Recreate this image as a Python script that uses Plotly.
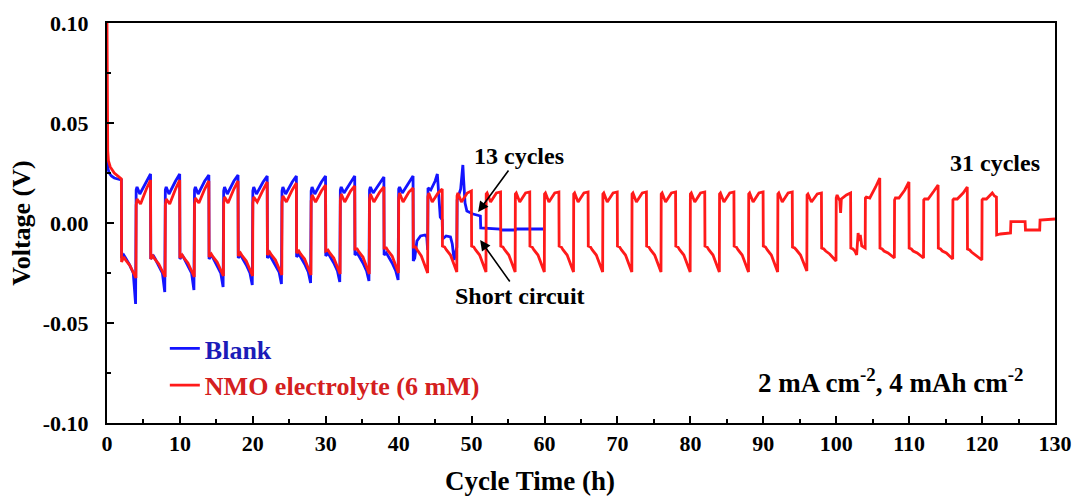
import plotly.graph_objects as go

# ---------------- data, (time h, voltage V) ----------------
# Blank electrolyte (blue)
blank_points = [
    (0, 0.035), (0.05, 0.030), (0.15, 0.027), (0.3, 0.025), (0.6, 0.0235), (1.0, 0.0225), (1.5, 0.022), (1.97, 0.0215),
    (2.0, -0.0175), (2.3, -0.016), (2.55, -0.0175), (3.1, -0.021), (3.6, -0.025), (3.92, -0.0405),
    (4.0, 0.0165), (4.12, 0.018), (4.5, 0.0145), (5.4, 0.021), (5.97, 0.0245),
    (6.0, -0.018), (6.3, -0.016), (6.55, -0.0175), (7.1, -0.0215), (7.6, -0.025), (7.92, -0.0345),
    (8.0, 0.0165), (8.12, 0.018), (8.5, 0.0145), (9.4, 0.021), (9.97, 0.0245),
    (10.0, -0.018), (10.3, -0.016), (10.55, -0.0175), (11.1, -0.0215), (11.6, -0.025), (11.92, -0.0335),
    (12.0, 0.0165), (12.12, 0.018), (12.5, 0.0145), (13.4, 0.021), (13.97, 0.024),
    (14.0, -0.018), (14.3, -0.016), (14.55, -0.0175), (15.1, -0.0215), (15.6, -0.025), (15.92, -0.032),
    (16.0, 0.016), (16.12, 0.018), (16.5, 0.0145), (17.4, 0.021), (17.97, 0.024),
    (18.0, -0.0175), (18.3, -0.016), (18.55, -0.0175), (19.1, -0.021), (19.6, -0.025), (19.92, -0.031),
    (20.0, 0.016), (20.12, 0.018), (20.5, 0.0145), (21.4, 0.0205), (21.97, 0.0235),
    (22.0, -0.0175), (22.3, -0.016), (22.55, -0.0175), (23.1, -0.021), (23.6, -0.0245), (23.92, -0.0305),
    (24.0, 0.016), (24.12, 0.018), (24.5, 0.0145), (25.4, 0.0205), (25.97, 0.0235),
    (26.0, -0.017), (26.3, -0.0155), (26.55, -0.017), (27.1, -0.0205), (27.6, -0.0245), (27.92, -0.030),
    (28.0, 0.016), (28.12, 0.018), (28.5, 0.0145), (29.4, 0.0205), (29.97, 0.0235),
    (30.0, -0.0165), (30.3, -0.015), (30.55, -0.0165), (31.1, -0.020), (31.6, -0.024), (31.92, -0.0295),
    (32.0, 0.0165), (32.12, 0.018), (32.5, 0.015), (33.4, 0.0205), (33.97, 0.0235),
    (34.0, -0.016), (34.3, -0.015), (34.55, -0.0165), (35.1, -0.020), (35.6, -0.024), (35.92, -0.029),
    (36.0, 0.0165), (36.12, 0.018), (36.5, 0.015), (37.4, 0.020), (37.97, 0.023),
    (38.0, -0.016), (38.3, -0.015), (38.55, -0.0165), (39.1, -0.020), (39.6, -0.024), (39.92, -0.0285),
    (40.0, 0.017), (40.12, 0.018), (40.5, 0.015), (41.4, 0.020), (41.97, 0.0235),
    (42.0, -0.019), (42.2, -0.0175), (42.5, -0.009), (43.0, -0.0065), (43.6, -0.006), (43.85, -0.007), (43.97, -0.0135),
    (44.02, 0.0175), (44.4, 0.0165), (45.0, 0.021), (45.3, 0.0245), (45.5, 0.011), (45.7, 0.003), (45.97, 0.0015),
    (46.02, -0.008), (46.5, -0.0065), (47.1, -0.007), (47.35, -0.0105), (47.6, -0.0185), (47.97, -0.012),
    (48.02, 0.0115), (48.5, 0.017), (48.8, 0.029), (48.9, 0.022), (49.1, 0.010), (49.35, 0.006), (50.2, 0.0045), (51.2, 0.0035),
    (51.25, -0.0025), (53.9, -0.003), (54.0, -0.0035), (56.0, -0.0035), (56.05, -0.003), (59.8, -0.003),
]

# NMO electrolyte (6 mM) (red): start, first 13 cycles
nmo_points_early = [
    (0, 0.100), (0.02, 0.070), (0.05, 0.048), (0.1, 0.036), (0.2, 0.031), (0.45, 0.028), (1.0, 0.025), (1.5, 0.0235), (1.97, 0.022),
    (2.0, -0.0195), (2.3, -0.017), (2.55, -0.0185), (3.1, -0.021), (3.97, -0.0275),
    (4.0, 0.009), (4.12, 0.012), (4.6, 0.0095), (5.4, 0.017), (5.97, 0.0215),
    (6.0, -0.018), (6.3, -0.0165), (6.55, -0.018), (7.1, -0.0205), (7.97, -0.027),
    (8.0, 0.009), (8.12, 0.012), (8.6, 0.0095), (9.4, 0.017), (9.97, 0.0215),
    (10.0, -0.0175), (10.3, -0.016), (10.55, -0.0175), (11.1, -0.020), (11.97, -0.027),
    (12.0, 0.0095), (12.12, 0.0125), (12.6, 0.010), (13.4, 0.017), (13.97, 0.021),
    (14.0, -0.017), (14.3, -0.0155), (14.55, -0.017), (15.1, -0.0195), (15.97, -0.0265),
    (16.0, 0.010), (16.12, 0.013), (16.6, 0.010), (17.4, 0.017), (17.97, 0.021),
    (18.0, -0.0165), (18.3, -0.015), (18.55, -0.0165), (19.1, -0.019), (19.97, -0.0265),
    (20.0, 0.010), (20.12, 0.013), (20.6, 0.0105), (21.4, 0.0165), (21.97, 0.0205),
    (22.0, -0.016), (22.3, -0.0145), (22.55, -0.016), (23.1, -0.0185), (23.97, -0.026),
    (24.0, 0.0105), (24.12, 0.0135), (24.6, 0.0105), (25.4, 0.0165), (25.97, 0.020),
    (26.0, -0.015), (26.3, -0.014), (26.55, -0.0155), (27.1, -0.018), (27.97, -0.026),
    (28.0, 0.011), (28.12, 0.014), (28.6, 0.0105), (29.4, 0.016), (29.97, 0.019),
    (30.0, -0.014), (30.3, -0.0135), (30.55, -0.015), (31.1, -0.0175), (31.97, -0.0255),
    (32.0, 0.0115), (32.12, 0.0145), (32.6, 0.0105), (33.4, 0.016), (33.97, 0.0185),
    (34.0, -0.013), (34.3, -0.013), (34.55, -0.0145), (35.1, -0.017), (35.97, -0.0255),
    (36.0, 0.012), (36.12, 0.0145), (36.6, 0.0105), (37.4, 0.0155), (37.97, 0.018),
    (38.0, -0.0125), (38.3, -0.0125), (38.55, -0.014), (39.1, -0.0165), (39.97, -0.025),
    (40.0, 0.0125), (40.12, 0.015), (40.6, 0.0105), (41.4, 0.0155), (41.97, 0.0175),
    (42.0, -0.012), (42.3, -0.012), (42.55, -0.0135), (43.1, -0.0165), (43.97, -0.025),
    (44.0, 0.013), (44.12, 0.015), (44.6, 0.0105), (45.4, 0.015), (45.97, 0.017),
    (46.0, -0.0115), (46.3, -0.012), (46.55, -0.0135), (47.1, -0.016), (47.97, -0.0245),
    (48.0, 0.0135), (48.12, 0.015), (48.6, 0.0105), (49.4, 0.015), (49.97, 0.016),
    (50.0, -0.0115), (50.3, -0.012), (50.55, -0.0135), (51.1, -0.016), (51.97, -0.0245),
]

# NMO: steady cycles 52-96 h
nmo_points_mid = [
    (52.0, 0.0145), (52.12, 0.015), (52.6, 0.0105), (53.4, 0.015), (53.97, 0.0155),
    (54.0, -0.0115), (54.3, -0.012), (54.55, -0.0135), (55.1, -0.016), (55.97, -0.0245),
    (56.0, 0.0145), (56.12, 0.015), (56.6, 0.0105), (57.4, 0.015), (57.97, 0.0155),
    (58.0, -0.0115), (58.3, -0.012), (58.55, -0.0135), (59.1, -0.016), (59.97, -0.0245),
    (60.0, 0.0145), (60.12, 0.015), (60.6, 0.0105), (61.4, 0.015), (61.97, 0.0155),
    (62.0, -0.0115), (62.3, -0.012), (62.55, -0.0135), (63.1, -0.016), (63.97, -0.0245),
    (64.0, 0.0145), (64.12, 0.015), (64.6, 0.0105), (65.4, 0.015), (65.97, 0.0155),
    (66.0, -0.0115), (66.3, -0.012), (66.55, -0.0135), (67.1, -0.016), (67.97, -0.0245),
    (68.0, 0.0145), (68.12, 0.015), (68.6, 0.0105), (69.4, 0.015), (69.97, 0.0155),
    (70.0, -0.0115), (70.3, -0.012), (70.55, -0.0135), (71.1, -0.016), (71.97, -0.0245),
    (72.0, 0.0145), (72.12, 0.015), (72.6, 0.0105), (73.4, 0.015), (73.97, 0.0155),
    (74.0, -0.0115), (74.3, -0.012), (74.55, -0.0135), (75.1, -0.016), (75.97, -0.0245),
    (76.0, 0.0145), (76.12, 0.015), (76.6, 0.0105), (77.4, 0.015), (77.97, 0.0155),
    (78.0, -0.0115), (78.3, -0.012), (78.55, -0.0135), (79.1, -0.016), (79.97, -0.0245),
    (80.0, 0.0145), (80.12, 0.015), (80.6, 0.0105), (81.4, 0.015), (81.97, 0.0155),
    (82.0, -0.0115), (82.3, -0.012), (82.55, -0.0135), (83.1, -0.016), (83.97, -0.0245),
    (84.0, 0.0145), (84.12, 0.015), (84.6, 0.0105), (85.4, 0.015), (85.97, 0.0155),
    (86.0, -0.0115), (86.3, -0.012), (86.55, -0.0135), (87.1, -0.016), (87.97, -0.0245),
    (88.0, 0.0145), (88.12, 0.015), (88.6, 0.0105), (89.4, 0.015), (89.97, 0.0155),
    (90.0, -0.0115), (90.3, -0.012), (90.55, -0.0135), (91.1, -0.016), (91.97, -0.0245),
    (92.0, 0.0145), (92.12, 0.015), (92.6, 0.0105), (93.4, 0.015), (93.97, 0.0155),
    (94.0, -0.012), (94.3, -0.0125), (94.55, -0.0135), (95.1, -0.016), (95.97, -0.024),
]

# NMO: late cycles and short circuit
nmo_points_late = [
    (96.0, 0.014), (96.12, 0.0145), (96.6, 0.0105), (97.4, 0.0145), (97.97, 0.015),
    (98.0, -0.0125), (98.3, -0.013), (98.55, -0.014), (99.1, -0.0155), (99.97, -0.019),
    (100.0, 0.0125), (100.12, 0.014), (100.5, 0.011), (100.6, 0.005), (100.7, 0.012), (101.4, 0.014), (101.97, 0.015),
    (102.0, -0.0125), (102.3, -0.013), (102.55, -0.014), (102.8, -0.016), (103.0, -0.005), (103.15, -0.009),
    (103.3, -0.006), (103.5, -0.0115), (103.97, -0.0125),
    (104.0, 0.0125), (104.12, 0.013), (104.6, 0.0125), (105.4, 0.018), (105.97, 0.0225),
    (106.0, -0.0125), (106.3, -0.013), (106.55, -0.014), (107.1, -0.015), (107.97, -0.0175),
    (108.0, 0.0115), (108.12, 0.0125), (108.6, 0.0125), (109.4, 0.0165), (109.97, 0.0205),
    (110.0, -0.0125), (110.3, -0.013), (110.55, -0.014), (111.1, -0.015), (111.97, -0.0175),
    (112.0, 0.0115), (112.12, 0.012), (112.6, 0.012), (113.4, 0.016), (113.97, 0.019),
    (114.0, -0.0125), (114.3, -0.013), (114.55, -0.014), (115.1, -0.015), (115.97, -0.018),
    (116.0, 0.0115), (116.12, 0.012), (116.6, 0.012), (117.4, 0.015), (117.97, 0.018),
    (118.0, -0.013), (118.3, -0.0135), (118.55, -0.0145), (119.1, -0.016), (119.97, -0.0185),
    (120.0, 0.0115), (120.12, 0.012), (120.6, 0.012), (121.4, 0.015), (121.7, 0.0135), (121.97, 0.013),
    (122.0, -0.006), (122.5, -0.0055), (123.9, -0.005), (123.95, 0.0007), (125.9, 0.0007),
    (125.95, -0.0035), (127.9, -0.0035), (127.95, 0.0015), (130.0, 0.002),
]

y_tickvals = [-0.10, -0.05, 0.00, 0.05, 0.10]
y_ticktext = ["-0.10", "-0.05", "0.00", "0.05", "0.10"]
y_minor_vals = [-0.075, -0.025, 0.025, 0.075]
x_tickvals = [0, 10, 20, 30, 40, 50, 60, 70, 80, 90, 100, 110, 120, 130]

blank_t = [p[0] for p in blank_points]
blank_v = [p[1] for p in blank_points]
nmo_all = nmo_points_early + nmo_points_mid + nmo_points_late
nmo_t = [p[0] for p in nmo_all]
nmo_v = [p[1] for p in nmo_all]

# ---------------- figure ----------------
FONT = "Liberation Serif"
BLUE = "#1414ff"
RED = "#ff1a1a"

fig = go.Figure()
fig.add_trace(go.Scatter(
    x=blank_t, y=blank_v, mode="lines",
    name='<span style="color:#1c1cb8">Blank</span>',
    line=dict(color=BLUE, width=2.8),
))
fig.add_trace(go.Scatter(
    x=nmo_t, y=nmo_v, mode="lines",
    name='<span style="color:#d42020">NMO electrolyte (6 mM)</span>',
    line=dict(color=RED, width=2.8),
))

tickfont = dict(family=FONT, size=22, color="black", weight="bold")
titlefont = dict(family=FONT, size=26, color="black", weight="bold")

fig.update_xaxes(
    range=[0, 130], tickvals=x_tickvals, automargin=False,
    ticks="inside", ticklen=7, tickwidth=2, tickcolor="black",
    minor=dict(dtick=5, tick0=0, ticks="inside", ticklen=4, tickwidth=2, tickcolor="black"),
    showline=True, linewidth=2, linecolor="black", mirror=True,
    showgrid=False, zeroline=False,
    tickfont=tickfont, ticklabelstandoff=0,
)
fig.update_yaxes(
    range=[-0.1, 0.1], tickvals=y_tickvals, ticktext=y_ticktext, automargin=False,
    ticks="inside", ticklen=7, tickwidth=2, tickcolor="black",
    minor=dict(tickvals=y_minor_vals, ticks="inside", ticklen=4, tickwidth=2, tickcolor="black"),
    showline=True, linewidth=2, linecolor="black", mirror=True,
    showgrid=False, zeroline=False,
    tickfont=tickfont, ticklabelstandoff=12,
    title=dict(text="Voltage (V)", font=titlefont, standoff=5),
)

# x-axis title (placed as in the reference, slightly left of centre)
fig.add_annotation(x=(530 - 107) / 948, y=(423 - 481) / 400, xref="paper", yref="paper",
                   xanchor="center", yanchor="middle", showarrow=False,
                   text="Cycle Time (h)", font=dict(family=FONT, size=27, color="black", weight="bold"))

annfont = dict(family=FONT, size=24, color="black", weight="bold")
fig.add_annotation(x=50.89, y=0.0055, ax=41, ay=-56, text="13 cycles", showarrow=True,
                   arrowhead=2, arrowsize=1.3, arrowwidth=1.6, arrowcolor="black",
                   standoff=0, font=annfont)
fig.add_annotation(x=51.17, y=-0.0085, ax=40, ay=56, text="Short circuit", showarrow=True,
                   arrowhead=2, arrowsize=1.3, arrowwidth=1.6, arrowcolor="black",
                   standoff=0, font=annfont)
fig.add_annotation(x=(995 - 107) / 948, y=(423 - 163) / 400, xref="paper", yref="paper",
                   xanchor="center", yanchor="middle",
                   text="31 cycles", showarrow=False, font=annfont)
fig.add_annotation(x=(890 - 107) / 948, y=(423 - 381) / 400, xref="paper", yref="paper",
                   xanchor="center", yanchor="middle",
                   text="2 mA cm<sup>-2</sup>, 4 mAh cm<sup>-2</sup>", showarrow=False,
                   font=dict(family=FONT, size=27, color="black", weight="bold"))

fig.update_layout(
    width=1076, height=497,
    margin=dict(l=107, r=21, t=23, b=74, autoexpand=False),
    paper_bgcolor="white", plot_bgcolor="white",
    showlegend=True,
    legend=dict(x=0.061, y=0.245, xanchor="left", yanchor="top",
                bgcolor="rgba(0,0,0,0)", borderwidth=0,
                font=dict(family=FONT, size=26, weight="bold"),
                tracegroupgap=0),
)

fig.write_html("out.html",
               config={"displayModeBar": False},
               post_script="document.body.style.margin='0px';document.body.style.overflow='hidden';")
